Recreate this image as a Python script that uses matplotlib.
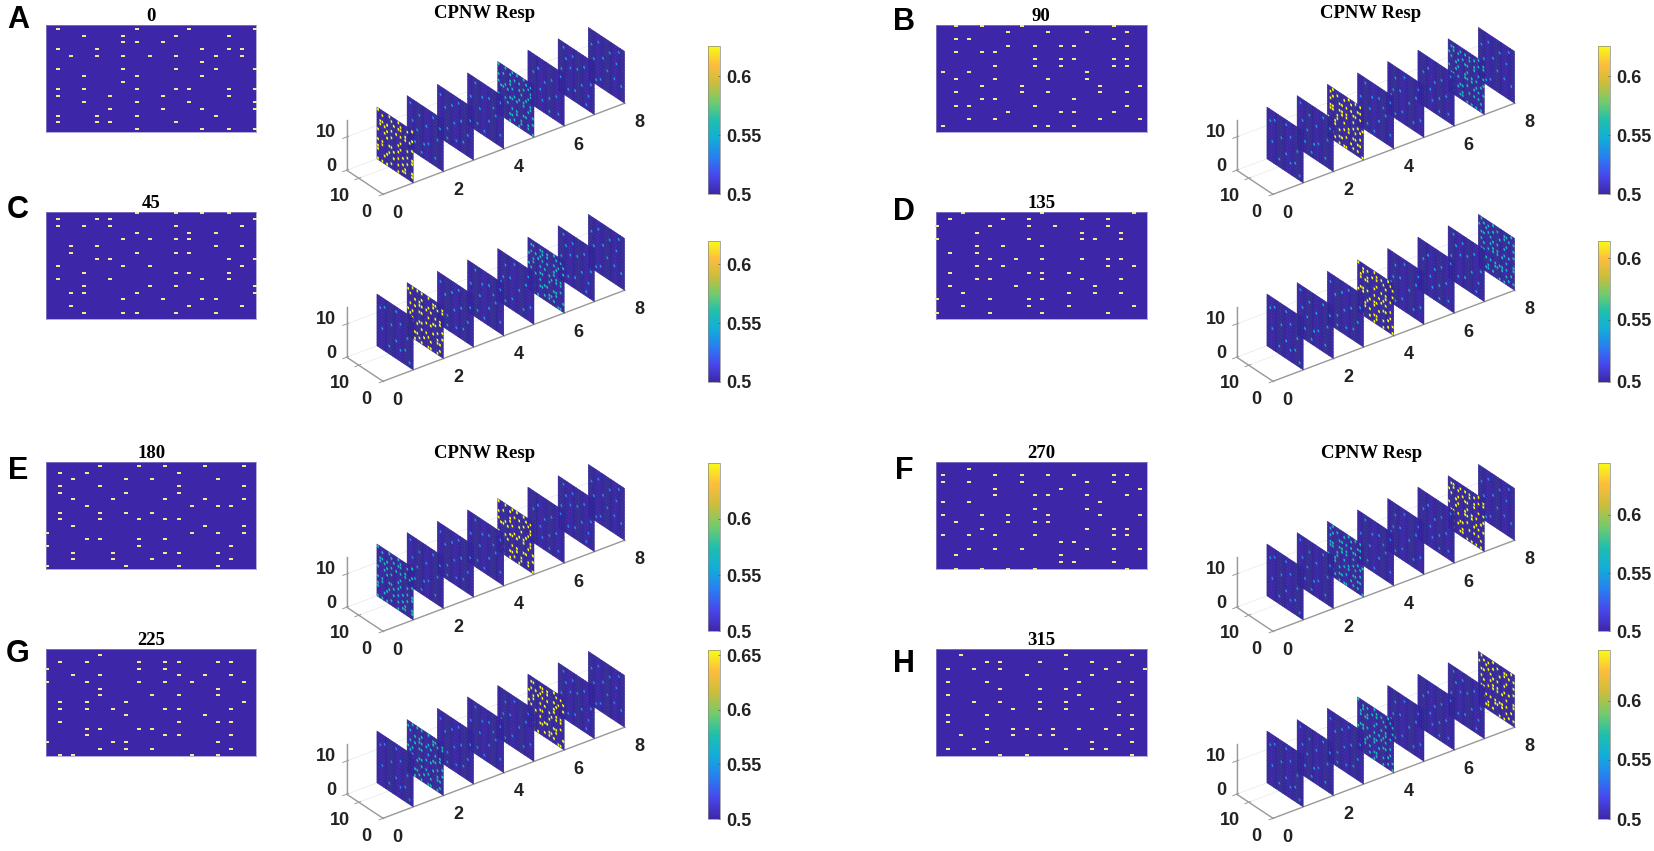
import numpy as np
import matplotlib
matplotlib.use("Agg")
import matplotlib.pyplot as plt
from matplotlib.colors import LinearSegmentedColormap, Normalize
from matplotlib.cm import ScalarMappable
from mpl_toolkits.mplot3d.art3d import Poly3DCollection
from mpl_toolkits.mplot3d import proj3d

W, H = 1654, 851
plt.rcParams['font.family'] = ['Liberation Sans', 'DejaVu Sans']
plt.rcParams['grid.color'] = '#e8e8e8'
plt.rcParams['grid.linewidth'] = 0.5

PARULA = LinearSegmentedColormap.from_list('parula', [
    (0.2422, 0.1504, 0.6603), (0.2810, 0.2790, 0.9300), (0.1540, 0.4980, 0.9500),
    (0.0700, 0.6800, 0.8500), (0.1200, 0.7500, 0.6800), (0.4500, 0.8000, 0.4200),
    (0.8000, 0.7400, 0.2300), (0.9900, 0.7400, 0.2400), (0.9769, 0.9839, 0.0805)])

# Spike positions: for each row, the columns that hold a dot
P0 = [[0,6,10,15],[2,5,9,13],[5,6,8],[0,3,11,13,14],[1,3,5,7,9,12,14],[11],[0,5,9,12,15],[2,6,11],
      [5],[0,2,6,9,10,13,15],[0,4,8,13],[2,6,10,15],[4,8,11,15],[0,3,6,12],[0,3,4,9],[6,11,13,15]]
P45 = [[6,9,11,13],[0,3,4,15],[0,2,4,9,14],[6,10,12],[5,7,9,10],[1,3,12,14],[1,6,9,10],[3,4,13,15],
       [0,5,7,14],[2,9,10,13],[0,4,11,13],[2,7,9,15],[1,2,6,15],[5,8,11,12],[1,10,14],[2,5,6,9,12]]
P180 = [[4,7,9,12,15],[1,3,10],[2,6,8,13],[1,4,10,15],[1,6,10],[2,5,9,12,15],[3,11,13,14],[1,4,6,8],
        [1,4,7,9,10],[2,12,15],[0,11,13,15],[3,4,7,9],[0,7,14],[2,5,9,10,13],[2,5,8,14],[0,6,10,13]]
P225 = [[4],[1,3,7,9,10,13,14],[0,7,9],[2,4,10,12,14],[0,3,7,9,11,15],[4,13],[4,8,10,13],[1,3,6,15],
        [1,3,5,9,10,14],[6,12],[1,10,13,14],[3,4,7,8],[3,9,10,14],[0,5,6,13],[4,6,8,14],[1,2,11,13]]
P90 = [[1,3,6,13],[5,8,11,14],[1,2,13],[5,7,9,10,14],[1,3,4],[7,9,10,13,14],[4,7,9,13,14],[0,2,11],
       [1,4,8,11],[3,6,12,15],[1,6,8,12,14],[3,4,10],[1,2,7,14],[5,9,10,13],[2,4,12,15],[0,7,8,10]]
P135 = [[2,8,15],[1,5,7,11,13],[0,4,7,9,13],[3,11,14],[0,7,11,12,14],[3,5,8],[1,3],[4,6,8,11,13,14],
        [3,5,13,15],[1,7,8,10],[3,4,8,11,14],[1,6,12],[2,10,12,14],[0,4,7,8],[2,7,10,15],[0,4,8,13]]
P270 = [[2],[0,4,6,8,10,13,14],[0,2,6,11,13],[4,9,15],[4,7,8,11,14],[0,2,12],[7,11],[0,3,5,8,12,15],
        [1,5,7,8],[3,11,13,14],[0,2,4,7,13,14],[9,10],[2,4,6,11,13,15],[1,9],[9,10,13],[1,3,5,7,14]]
P315 = [[1,9,14],[3,4,7,11,13],[0,2,4,9,12,15],[6,11],[0,3,10,13,14],[4,7,9],[0,10,14],[2,4,7,9,13],
        [5,7,9,11],[0,3,13,14],[0],[3,5,6,8,10,12,14],[1,5,7,8,13],[3,11,14],[0,2,9,11,12],[4,6,14]]

# Faint low-level dots read per channel (row, col)
F1 = [(2,12),(4,5),(6,9),(7,2),(9,13),(10,7),(11,3),(13,10),(1,7),(3,14),(12,5),(14,1)]
F2 = [(6,13),(3,10),(11,8),(10,6),(1,4),(3,1),(8,11),(13,3),(5,7),(12,12),(7,2),(14,9),(1,14)]
F3 = [(2,14),(3,9),(5,12),(6,5),(8,8),(9,2),(11,11),(12,4),(13,7),(4,1),(1,6),(10,14),(14,11)]
F4 = [(1,12),(3,6),(4,9),(6,14),(7,3),(8,10),(10,6),(12,1),(13,11),(5,4),(2,1),(11,14),(14,8)]
F5 = [(1,8),(3,12),(5,3),(6,10),(8,6),(9,14),(11,1),(12,9),(13,4),(2,2),(7,13),(14,12)]
F6 = [(3,11),(4,5),(5,13),(6,8),(8,3),(9,10),(10,6),(11,13),(13,2),(1,1),(12,9),(14,6)]
F7 = [(2,9),(3,4),(4,12),(5,7),(6,10),(8,14),(9,5),(11,2),(12,8),(13,11),(1,13),(7,1),(14,3)]
F8 = [(2,11),(3,6),(5,3),(6,9),(8,13),(9,7),(11,1),(13,10),(1,2),(4,14),(10,4),(14,12)]
FAINT = [F1, F2, F3, F4, F5, F6, F7, F8]

TITLES = ['0', '90', '45', '135', '180', '270', '225', '315']
LETTERS = ['A', 'B', 'C', 'D', 'E', 'F', 'G', 'H']
PATTERNS = [P0, P90, P45, P135, P180, P270, P225, P315]
PARTNERS = [P180, P270, P225, P315, P0, P90, P45, P135]
BRIGHT_CH = [1, 3, 2, 4, 5, 7, 6, 8]
PARTNER_CH = [5, 7, 6, 8, 1, 3, 2, 4]
CB_TOP = [0.6257, 0.6255, 0.62, 0.614, 0.6495, 0.6446, 0.655, 0.643]
CB_TICKS = [[.5, .55, .6]] * 6 + [[.5, .55, .6, .65], [.5, .55, .6]]
CHANNELS = [1, 2, 3, 4, 5, 6, 7, 8]
X_TICKS = [0, 2, 4, 6, 8]
YZ_TICKS = [0, 10]

# layout in pixels
X_SHIFT = [0, 890, 0, 890, 0, 890, 0, 890]
Y_SHIFT = [0, 0, 187, 187, 437, 437, 624, 624]
XOFF = [.89, .50, .89, .08, .08, .50, .08, .89]
YOFF = [.55, .05, .05, .05, .55, .95, .90, .90]
CB_SPAN = [(46, 194.3), (46, 194.3), (241, 381.7), (241, 381.7),
           (463, 631.4), (463, 631.4), (650, 819), (650, 819)]
LETTER_Y = [20.5, 21.5, 210.5, 211.5, 470.5, 470.5, 653.5, 664.5]

fig = plt.figure(figsize=(W / 100, H / 100), dpi=100, facecolor='white')


def box(l, t, r, b):
    return [l / W, 1 - b / H, (r - l) / W, (b - t) / H]


def spike_points(pat):
    return [(r, c) for r, cols in enumerate(pat) for c in cols]


RECT = [(-1.65, -1), (1.65, -1), (1.65, 1), (-1.65, 1)]
LABEL = dict(fontsize=13, fontweight='bold', color='#222222', ha='center', va='center')

for i in range(8):
    dx, dy = X_SHIFT[i], Y_SHIFT[i]
    # ---- input raster ----
    ax = fig.add_axes(box(46 + dx, 25.3 + dy, 256.5 + dx, 132.3 + dy))
    ax.set_facecolor(PARULA(0.0))
    pts = spike_points(PATTERNS[i])
    ax.scatter([c + XOFF[i] for r, c in pts], [r + YOFF[i] for r, c in pts], s=5.0,
               marker=RECT, c='#F2E992', linewidths=0, clip_on=False, zorder=3)
    ax.set_xlim(0, 16)
    ax.set_ylim(16.05, 0)
    ax.set_xticks([])
    ax.set_yticks([])
    for s in ax.spines.values():
        s.set_color('#8f88c9')
        s.set_linewidth(0.5)
    ax.set_title(TITLES[i], fontsize=13.5, fontweight='bold', family='Liberation Serif', pad=3)

    fig.text((18 + dx - (4 if i % 2 else 0)) / W, 1 - LETTER_Y[i] / H, LETTERS[i], fontsize=22,
             fontweight='bold', ha='center', va='center', color='black')

    # ---- response cube ----
    vmax = CB_TOP[i] * 0.998
    norm = Normalize(0.5, CB_TOP[i])
    L = 600
    a3 = fig.add_axes(box(100, 100, 100 + L, 100 + L), projection='3d', proj_type='ortho')
    a3.set_facecolor('none')
    a3.patch.set_alpha(0)
    a3.view_init(elev=30, azim=-127)
    a3.set_box_aspect((303.2, 60.45, 57.75))
    a3.set_xlim(0, 8, view_margin=0)
    a3.set_ylim(0, 15, view_margin=0)
    a3.set_zlim(0, 15, view_margin=0)

    yg = np.linspace(0, 15, 17)
    zg = np.linspace(15.6, 0, 17)
    for ch in CHANNELS:
        vals = np.full((16, 16), 0.5)
        if ch == BRIGHT_CH[i]:
            pts_c, v = spike_points(PATTERNS[i]), vmax
        elif ch == PARTNER_CH[i]:
            pts_c, v = spike_points(PARTNERS[i]), 0.5 + 0.42 * (CB_TOP[i] - 0.5) / 0.9
        else:
            pts_c, v = FAINT[ch - 1], 0.538
        for r, c in pts_c:
            vals[r, c] = v
        polys, cols = [], []
        for r in range(16):
            for c in range(16):
                polys.append([(ch, yg[c], zg[r]), (ch, yg[c + 1], zg[r]),
                              (ch, yg[c + 1], zg[r + 1]), (ch, yg[c], zg[r + 1])])
                cols.append(PARULA(norm(vals[r, c])))
        a3.add_collection3d(Poly3DCollection(polys, facecolors=cols, edgecolors='#252585',
                                             linewidths=0.3))

    a3.set_xticks(X_TICKS)
    a3.set_yticks(YZ_TICKS)
    a3.set_zticks(YZ_TICKS)
    a3.set_xticklabels([])
    a3.set_yticklabels([])
    a3.set_zticklabels([])
    for axis in (a3.xaxis, a3.yaxis, a3.zaxis):
        axis.set_pane_color((1, 1, 1, 0))
        axis.pane.set_edgecolor((1, 1, 1, 0))
        axis.line.set_color('#9a9a9a')
        axis.line.set_linewidth(1.0)
        axis._axinfo['tick']['color'] = '#9a9a9a'
        axis._axinfo['tick']['linewidth'] = {True: 0.7, False: 0.7}
    a3.tick_params(colors='#9a9a9a', length=3)

    def project(x, y, z):
        a3.apply_aspect()
        px, py, _ = proj3d.proj_transform(x, y, z, a3.get_proj())
        return a3.transData.transform((px, py))

    p0 = project(0, 0, 0)
    p8 = project(8, 0, 0)
    L2 = L * 241.6 / (p8[0] - p0[0])
    a3.set_position(box(100, 100, 100 + L2, 100 + L2))
    p0 = project(0, 0, 0)
    tx, ty = 383 + dx, H - (194.3 + dy)
    a3.set_position(box(100 + tx - p0[0], 100 - (ty - p0[1]), 100 + tx - p0[0] + L2,
                        100 - (ty - p0[1]) + L2))

    def put(xyz, off, text, **kw):
        p = project(*xyz)
        style = dict(LABEL)
        style.update(kw)
        fig.text((p[0] + off[0]) / W, (p[1] - off[1]) / H, text, **style)

    for t in X_TICKS:
        put((t, 0, 0), (14.5, 19), str(t))
    for t in YZ_TICKS:
        put((0, t, 0), (-17 - t * 0.15, 18), str(t))
        put((0, 15, t), (-10.7, -4), str(t), ha='right')

    # ---- colour bar ----
    t, b = CB_SPAN[i]
    cax = fig.add_axes(box(708.3 + dx, t, 720.3 + dx, b))
    cb = fig.colorbar(ScalarMappable(norm, PARULA), cax=cax, ticks=CB_TICKS[i])
    cb.ax.set_yticklabels([('%.2f' % v).rstrip('0') for v in CB_TICKS[i]],
                          fontsize=13, fontweight='bold', color='#222222')
    cb.ax.tick_params(direction='in', length=1.5, width=0.5, pad=4, color='#555555')
    cb.outline.set_edgecolor('#888888')
    cb.outline.set_linewidth(0.5)

for xc, yc in [(485, 14), (1371, 14), (485, 453), (1372, 453)]:
    fig.text(xc / W, 1 - yc / H, 'CPNW Resp', fontsize=13.5, fontweight='bold',
             family='Liberation Serif', ha='center', va='center')

fig.savefig('out.png', dpi=100)
